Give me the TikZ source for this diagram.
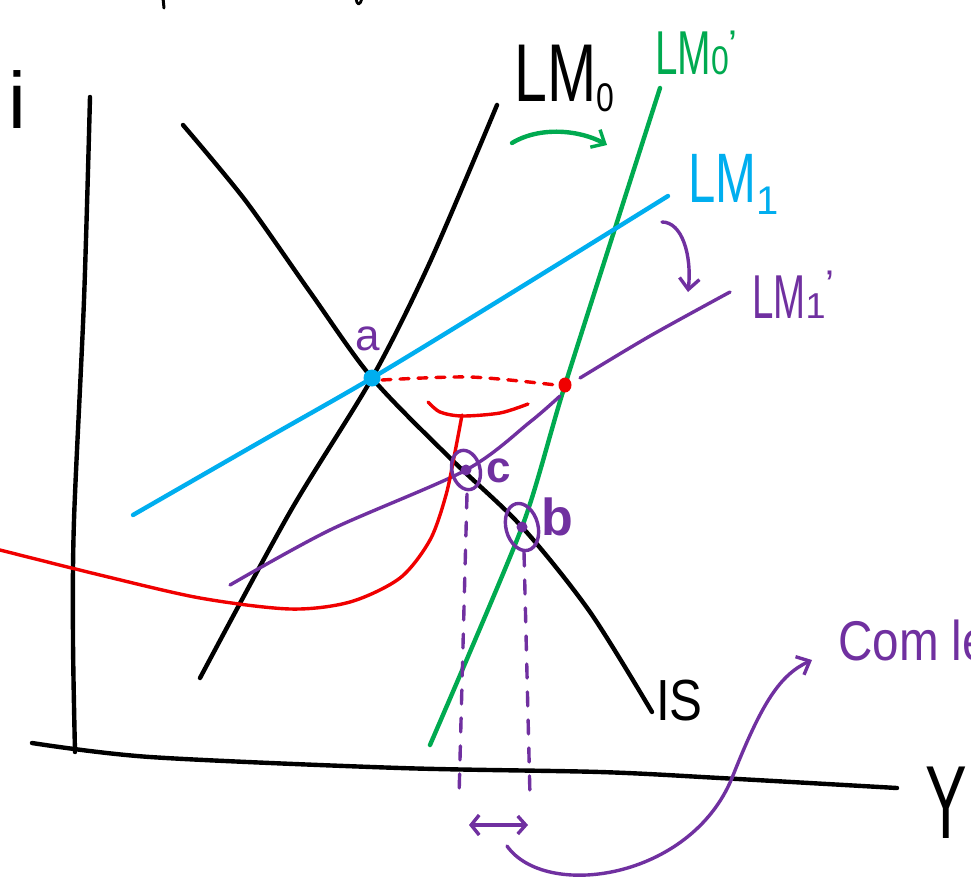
\documentclass[tikz,border=0pt]{standalone}
\usepackage{fontspec}
\setmainfont{Liberation Sans}
\usetikzlibrary{arrows.meta}
\definecolor{lmgreen}{RGB}{0,170,80}
\definecolor{lmblue}{RGB}{0,174,239}
\definecolor{lmpurple}{RGB}{112,48,160}
\definecolor{lmred}{RGB}{240,0,0}
\begin{document}
\begin{tikzpicture}[x=1pt,y=-1pt,line cap=round,line join=round,
  curve/.style={line width=4.4pt},
  thincurve/.style={line width=3.4pt},
  barb/.style={-{Straight Barb[length=11pt,width=20pt,line width=3.4pt]}},
  lbl/.style={inner sep=0pt,anchor=base west}]
\useasboundingbox (0,0) rectangle (971,878);
\clip (0,0) rectangle (971,878);
\fill[white] (0,0) rectangle (971,878);

% key points
\coordinate (a) at (372,378);
\coordinate (b) at (522,527);
\coordinate (c) at (466,470);
\coordinate (r) at (565,385);

% cut-off marks at the top edge
\draw[line width=3pt] (163,-2) -- (164,8);
\draw[line width=2.8pt] (356,-2) .. controls (357,6) and (360,6) .. (362,-2);

% axes
\draw[curve] plot[smooth] coordinates {(90,97) (84,300) (74,520) (73,640) (75,752)};
\draw[curve] plot[smooth] coordinates {(32,743) (150,757) (400,768) (600,772) (720,778) (897,788)};

% IS
\draw[curve] plot[smooth] coordinates {(183,125) (245,200) (310,292) (a) (450,458) (b) (590,612) (652,712)};
% LM0
\draw[curve] plot[smooth] coordinates {(200,678) (290,512) (a) (430,262) (497,105)};
% LM0'
\draw[curve,lmgreen] plot[smooth,tension=0.4] coordinates {(430,745) (b) (r) (660,88)};
% LM1
\draw[curve,lmblue] plot[smooth] coordinates {(133,515) (260,442) (a) (500,300) (668,196)};
% LM1'
\draw[thincurve,lmpurple] plot[smooth] coordinates {(230,585) (330,530) (c) (530,422) (560,396)};
\draw[thincurve,lmpurple] plot[smooth] coordinates {(580,378) (650,336) (730,292)};

% red dashed, red point
\draw[thincurve,lmred,dash pattern=on 9pt off 9pt] plot[smooth] coordinates {(382,380) (470,377) (556,385)};
\fill[lmred] (r) ellipse [x radius=6.5pt, y radius=7.5pt];

% red curve
\draw[thincurve,lmred] plot[smooth] coordinates {(428,402) (440,412) (462,416) (500,413) (528,404)};
\draw[thincurve,lmred] plot[smooth] coordinates {(462,415) (455,452) (446,495) (430,540) (400,578) (350,602) (290,609) (200,598) (100,575) (0,550)};

% point a
\fill[lmblue] (a) circle [radius=8.5pt];
\node[lbl,text=lmpurple,font=\fontsize{44}{44}\selectfont] (la) at (355,350) {a};

% points c and b
\fill[lmpurple] (c) circle [radius=5.5pt];
\draw[thincurve,lmpurple,rotate around={15:(c)}] (c) ellipse [x radius=14pt, y radius=20pt];
\node[lbl,text=lmpurple,font=\fontsize{44}{44}\selectfont\bfseries] (lc) at (486,482) {c};
\fill[lmpurple] (b) circle [radius=5.5pt];
\draw[thincurve,lmpurple,rotate around={15:(b)}] (b) ellipse [x radius=16pt, y radius=24pt];
\node[lbl,text=lmpurple,font=\fontsize{52}{52}\selectfont\bfseries] (lb) at (541,535) {b};

% dashed verticals
\draw[thincurve,lmpurple,dash pattern=on 14pt off 14pt] (467,494) -- (459,797);
\draw[thincurve,lmpurple,dash pattern=on 14pt off 14pt] (524,552) -- (530,797);

% double arrow
\coordinate (dl) at (469,825);
\coordinate (dr) at (528,825);
\draw[thincurve,lmpurple,{Straight Barb[length=8pt,width=20pt,line width=3.4pt]}-{Straight Barb[length=8pt,width=18pt,line width=3.4pt]}] (dl) -- (dr);

% long purple arrow
\coordinate (ps) at (507,846);
\coordinate (pm) at (732,778);
\coordinate (pe) at (812,660);
\draw[thincurve,lmpurple] (ps) .. controls (545,900) and (690,880) .. (pm);
\draw[thincurve,lmpurple,barb] (pm) .. controls (762,702) and (780,675) .. (pe);
\node[lbl,text=lmpurple,font=\fontsize{56}{56}\selectfont] (com) at (838,660) {\scalebox{0.85}[1]{Com le}};

% green shift arrow
\coordinate (gs) at (512,143);
\coordinate (ge) at (607,145);
\draw[curve,lmgreen,barb] (gs) .. controls (540,126) and (580,130) .. (ge);

% purple shift arrow
\coordinate (vs) at (662,222);
\coordinate (ve) at (688,292);
\draw[thincurve,lmpurple,barb] (vs) .. controls (682,222) and (692,255) .. (ve);

% labels
\node[lbl,font=\fontsize{80}{80}\selectfont] (li) at (8,128) {i};
\node[lbl,font=\fontsize{82}{82}\selectfont] (llm0) at (514,101) {\scalebox{0.72}[1]{LM}\raisebox{-10pt}{\fontsize{40}{40}\selectfont\scalebox{0.8}[1]{0}}};
\node[lbl,text=lmgreen,font=\fontsize{62}{62}\selectfont] (llm0p) at (655,74) {\scalebox{0.65}[1]{LM}{\fontsize{40}{40}\selectfont\scalebox{0.8}[1]{0}}\raisebox{16pt}{\fontsize{40}{40}\selectfont '}};
\node[lbl,text=lmblue,font=\fontsize{70}{70}\selectfont] (llm1) at (688,202) {\scalebox{0.7}[1]{LM}\raisebox{-12pt}{\fontsize{40}{40}\selectfont 1}};
\node[lbl,text=lmpurple,font=\fontsize{62}{62}\selectfont] (llm1p) at (752,318) {\scalebox{0.62}[1]{LM}{\fontsize{36}{36}\selectfont 1}\raisebox{20pt}{\fontsize{40}{40}\selectfont '}};
\node[lbl,font=\fontsize{58}{58}\selectfont] (lis) at (656,720) {\scalebox{0.85}[1]{IS}};
\node[lbl,font=\fontsize{104}{104}\selectfont] (ly) at (925,838) {\scalebox{0.6}[1]{Y}};
\end{tikzpicture}
\end{document}
